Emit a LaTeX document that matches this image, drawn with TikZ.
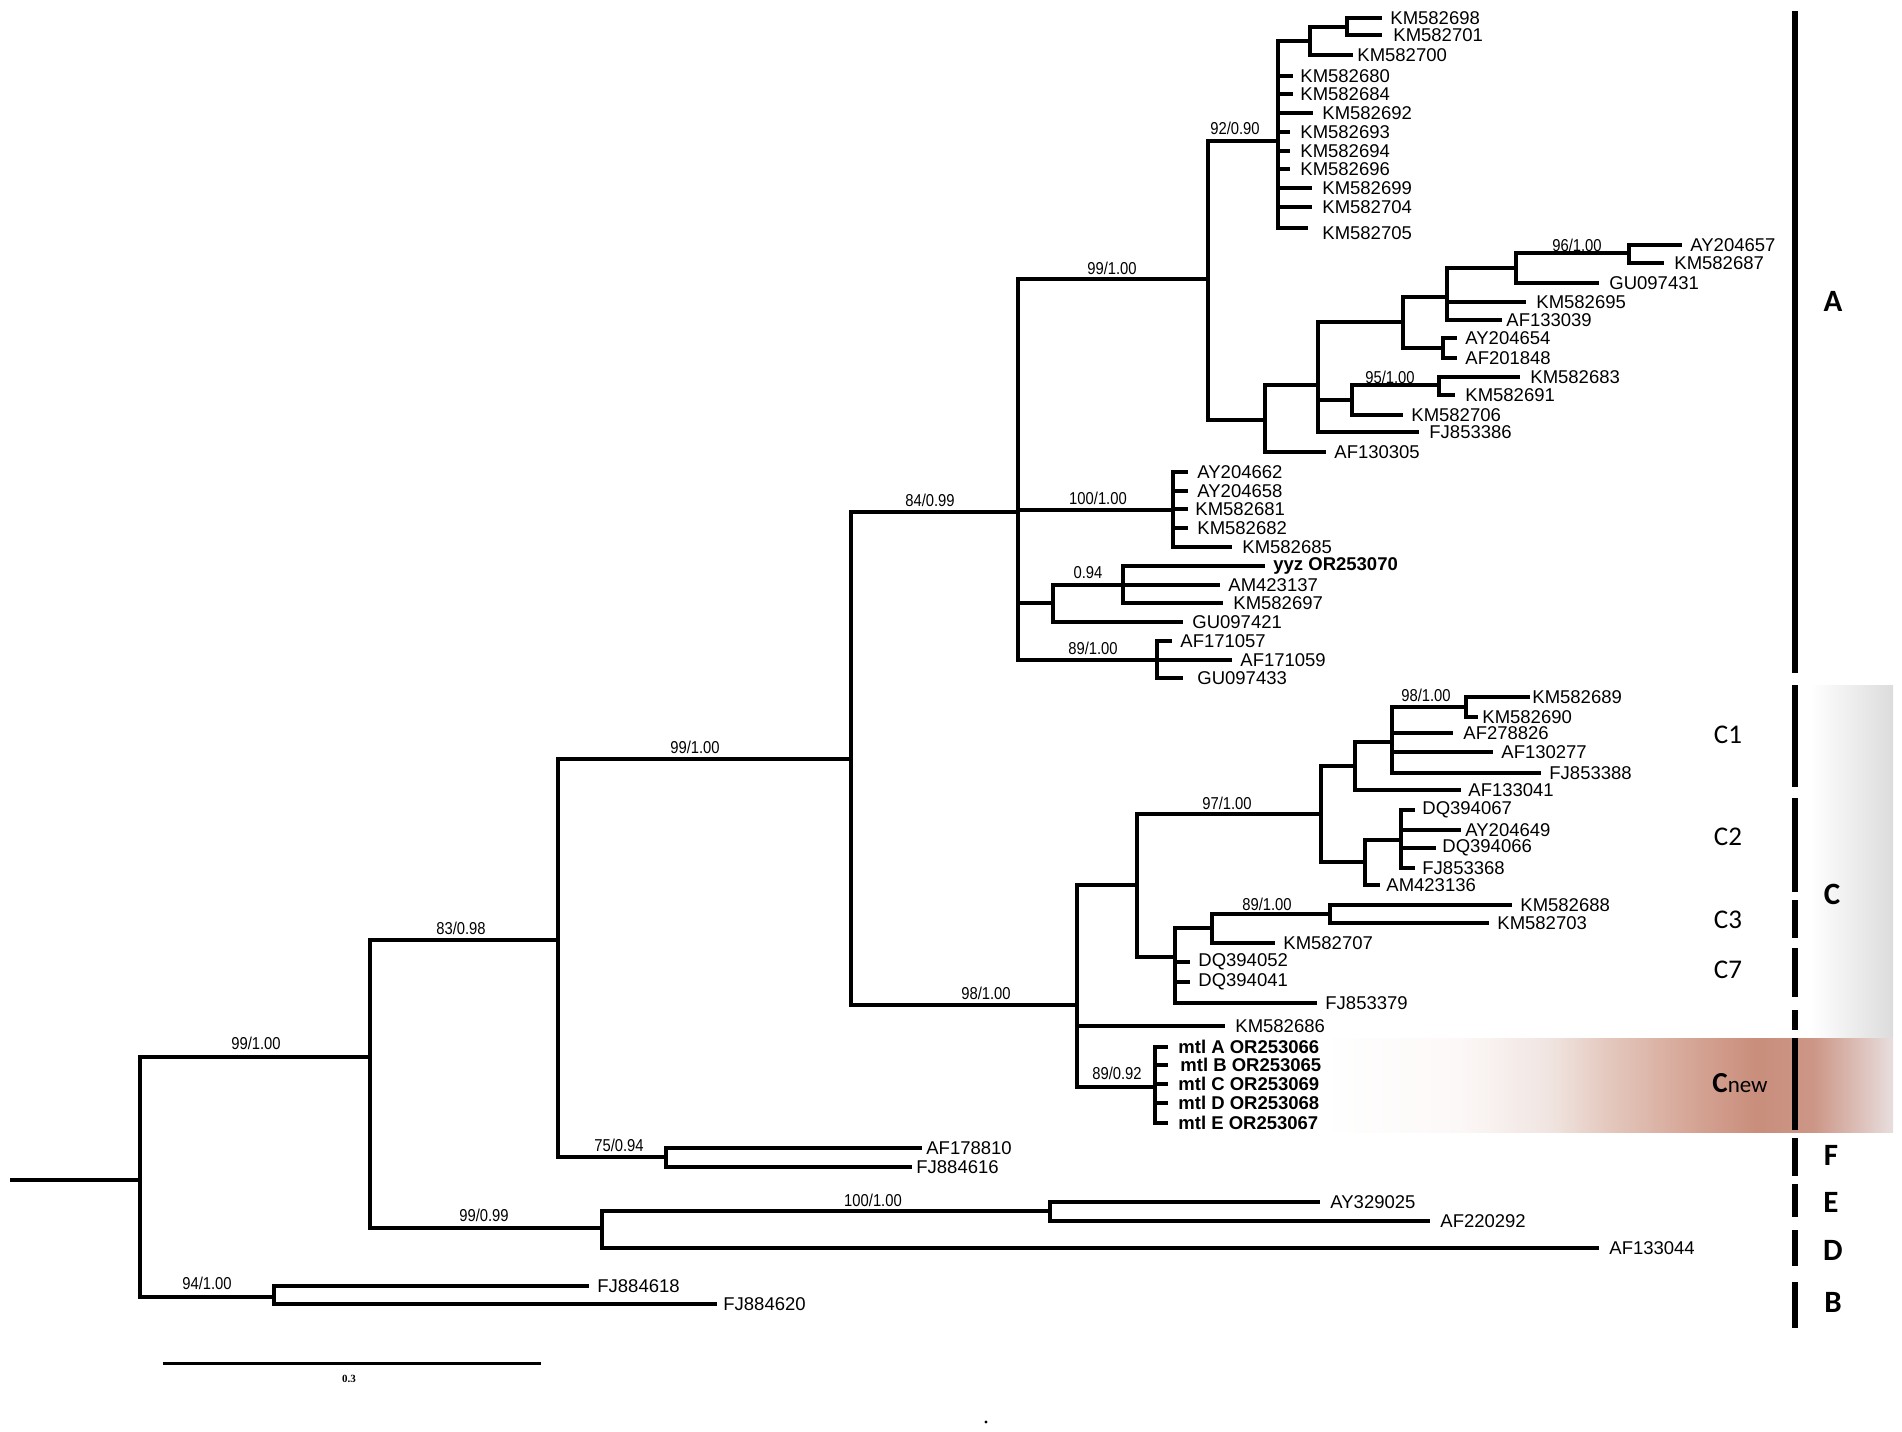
\documentclass[tikz,border=0pt]{standalone}
\usepackage{fontspec}
\setmainfont{Liberation Sans}
\newfontfamily\arf{Liberation Sans}
\newfontfamily\supf{Liberation Sans}[FakeStretch=0.86]
\newfontfamily\calf{Carlito}
\newfontfamily\serf{Liberation Serif}
\definecolor{cna}{RGB}{252,248,247}
\definecolor{cnb}{RGB}{240,228,224}
\definecolor{cnc}{RGB}{228,200,190}
\definecolor{cnd}{RGB}{212,162,146}
\definecolor{cne}{RGB}{201,142,124}
\definecolor{cnf}{RGB}{204,150,134}
\definecolor{cng}{RGB}{232,222,222}
\definecolor{gre}{RGB}{220,220,220}
\pgfdeclarehorizontalshading{cgrey}{100bp}{color(0bp)=(white); color(25bp)=(white); color(75bp)=(gre); color(100bp)=(gre)}
\pgfdeclarehorizontalshading{cnewsh}{100bp}{color(0bp)=(white); color(25bp)=(white); color(37bp)=(cna); color(45bp)=(cnb); color(50bp)=(cnc); color(58bp)=(cnd); color(63bp)=(cne); color(68bp)=(cnf); color(75bp)=(cng); color(100bp)=(cng)}
\newcommand\lf[5]{\coordinate (#1) at (#2,#3); \node[lab] (#1t) at (#4,#3) {#5};}
\newcommand\blf[5]{\coordinate (#1) at (#2,#3); \node[blab] (#1t) at (#4,#3) {#5};}
\newcommand\ed[2]{\foreach \c in {#2} {\draw[br] (#1) |- (\c);}}
\begin{document}
\begin{tikzpicture}[x=0.5pt,y=-0.5pt,
  br/.style={line width=1.8pt},
  lab/.style={anchor=west,inner sep=0pt,font=\fontsize{9.25}{10}\selectfont\arf},
  blab/.style={anchor=west,inner sep=0pt,font=\fontsize{9.25}{10}\selectfont\arf\bfseries},
  sup/.style={inner sep=0pt,font=\fontsize{8.6}{9}\selectfont\supf},
  clade/.style={inner sep=0pt,font=\fontsize{15.5}{16}\selectfont\calf\bfseries},
  subc/.style={inner sep=0pt,font=\fontsize{13.5}{14}\selectfont\calf},
  bar/.style={line width=3pt}]
\useasboundingbox (0,0) rectangle (1902,1431);
% backgrounds
\shade[shading=cgrey] (1810,685) rectangle (1893,1038);
\shade[shading=cnewsh] (1323,1038) rectangle (1893,1132);
% internal nodes
\coordinate (r0) at (10,1180);
\coordinate (r) at (140,1180);
\coordinate (n1) at (370,1057);
\coordinate (nB) at (274,1297);
\coordinate (n2) at (558,940);
\coordinate (n3) at (602,1228);
\coordinate (n4) at (851,759);
\coordinate (nF) at (666,1157);
\coordinate (nE) at (1050,1211);
\coordinate (n5) at (1018,512);
\coordinate (n6) at (1077,1005);
\coordinate (n7) at (1208,279);
\coordinate (n8) at (1173,510);
\coordinate (n9) at (1053,603);
\coordinate (n10) at (1157,660);
\coordinate (n11) at (1278,141);
\coordinate (n12) at (1265,420);
\coordinate (n13) at (1310,41);
\coordinate (n14) at (1347,27);
\coordinate (n15) at (1318,385);
\coordinate (n16) at (1403,322);
\coordinate (n17) at (1447,297);
\coordinate (n18) at (1516,268);
\coordinate (n19) at (1629,253);
\coordinate (n20) at (1443,348);
\coordinate (n21) at (1352,400);
\coordinate (n22) at (1439,385);
\coordinate (n23) at (1123,585);
\coordinate (n24) at (1137,885);
\coordinate (n25) at (1321,814);
\coordinate (n26) at (1355,766);
\coordinate (n27) at (1392,742);
\coordinate (n28) at (1466,707);
\coordinate (n29) at (1365,862);
\coordinate (n30) at (1401,840);
\coordinate (n31) at (1175,957);
\coordinate (n32) at (1212,928);
\coordinate (n33) at (1330,914);
\coordinate (n34) at (1155,1087);
% leaves
\lf{kma}{1382}{18}{1390}{KM582698}
\lf{kmb}{1382}{35}{1393}{KM582701}
\lf{kmc}{1353}{55}{1357}{KM582700}
\lf{kmd}{1293}{76}{1300}{KM582680}
\lf{kme}{1293}{94}{1300}{KM582684}
\lf{kmf}{1313}{113}{1322}{KM582692}
\lf{kmg}{1290}{132}{1300}{KM582693}
\lf{kmh}{1290}{151}{1300}{KM582694}
\lf{kmi}{1290}{169}{1300}{KM582696}
\lf{kmj}{1312}{188}{1322}{KM582699}
\lf{kmk}{1312}{207}{1322}{KM582704}
\coordinate (kml) at (1308,228); \node[lab] (kmlt) at (1322,233) {KM582705};
\lf{aya}{1682}{245}{1690}{AY204657}
\lf{kmm}{1664}{263}{1674}{KM582687}
\lf{gua}{1599}{283}{1609}{GU097431}
\lf{kmn}{1526}{302}{1536}{KM582695}
\lf{afa}{1502}{320}{1506}{AF133039}
\lf{ayb}{1457}{338}{1465}{AY204654}
\lf{afb}{1457}{358}{1465}{AF201848}
\lf{kmo}{1520}{377}{1530}{KM582683}
\lf{kmp}{1455}{395}{1465}{KM582691}
\lf{kmq}{1403}{415}{1411}{KM582706}
\lf{fja}{1419}{432}{1429}{FJ853386}
\lf{afc}{1326}{452}{1334}{AF130305}
\lf{ayc}{1188}{472}{1197}{AY204662}
\lf{ayd}{1188}{491}{1197}{AY204658}
\lf{kmr}{1188}{509}{1195}{KM582681}
\lf{kms}{1188}{528}{1197}{KM582682}
\lf{kmt}{1232}{547}{1242}{KM582685}
\blf{yyz}{1265}{566}{1273}{yyz OR253070}
\lf{ama}{1220}{585}{1228}{AM423137}
\lf{kmu}{1223}{603}{1233}{KM582697}
\lf{gub}{1183}{622}{1192}{GU097421}
\lf{afd}{1172}{641}{1180}{AF171057}
\lf{afe}{1232}{660}{1240}{AF171059}
\lf{guc}{1183}{678}{1197}{GU097433}
\lf{kmv}{1530}{697}{1532}{KM582689}
\lf{kmw}{1478}{717}{1482}{KM582690}
\lf{aff}{1453}{733}{1463}{AF278826}
\lf{afg}{1493}{752}{1501}{AF130277}
\lf{fjb}{1541}{773}{1549}{FJ853388}
\lf{afh}{1461}{790}{1468}{AF133041}
\lf{dqa}{1415}{810}{1422}{DQ394067}
\lf{aye}{1461}{830}{1465}{AY204649}
\lf{dqb}{1436}{848}{1442}{DQ394066}
\lf{fjc}{1415}{868}{1422}{FJ853368}
\lf{amb}{1380}{885}{1386}{AM423136}
\lf{kmx}{1512}{905}{1520}{KM582688}
\lf{kmy}{1489}{923}{1497}{KM582703}
\lf{kmz}{1275}{943}{1283}{KM582707}
\lf{dqc}{1190}{962}{1198}{DQ394052}
\lf{dqd}{1190}{982}{1198}{DQ394041}
\lf{fjd}{1317}{1003}{1325}{FJ853379}
\lf{kmk2}{1225}{1026}{1235}{KM582686}
\blf{mta}{1168}{1047}{1178}{mtl A OR253066}
\blf{mtb}{1168}{1065}{1180}{mtl B OR253065}
\blf{mtc}{1168}{1084}{1178}{mtl C OR253069}
\blf{mtd}{1168}{1103}{1178}{mtl D OR253068}
\blf{mte}{1168}{1123}{1178}{mtl E OR253067}
\lf{afi}{922}{1148}{926}{AF178810}
\lf{fje}{912}{1167}{916}{FJ884616}
\lf{ayf}{1320}{1202}{1330}{AY329025}
\lf{afj}{1430}{1221}{1440}{AF220292}
\lf{afk}{1599}{1248}{1609}{AF133044}
\lf{fjf}{589}{1286}{597}{FJ884618}
\lf{fjg}{717}{1304}{723}{FJ884620}
% branches
\draw[br] (r0) -- (r);
\ed{r}{n1,nB}
\ed{nB}{fjf,fjg}
\ed{n1}{n2,n3}
\ed{n2}{n4,nF}
\ed{nF}{afi,fje}
\ed{n3}{nE,afk}
\ed{nE}{ayf,afj}
\ed{n4}{n5,n6}
\ed{n5}{n7,n8,n9,n10}
\ed{n7}{n11,n12}
\ed{n11}{n13,kmd,kme,kmf,kmg,kmh,kmi,kmj,kmk,kml}
\ed{n13}{n14,kmc}
\ed{n14}{kma,kmb}
\ed{n12}{n15,afc}
\ed{n15}{n16,n21,fja}
\ed{n16}{n17,n20}
\ed{n17}{n18,kmn,afa}
\ed{n18}{n19,gua}
\ed{n19}{aya,kmm}
\ed{n20}{ayb,afb}
\ed{n21}{n22,kmq}
\ed{n22}{kmo,kmp}
\ed{n8}{ayc,ayd,kmr,kms,kmt}
\ed{n9}{n23,gub}
\ed{n23}{yyz,ama,kmu}
\ed{n10}{afd,afe,guc}
\ed{n6}{n24,kmk2,n34}
\ed{n24}{n25,n31}
\ed{n25}{n26,n29}
\ed{n26}{n27,afh}
\ed{n27}{n28,aff,afg,fjb}
\ed{n28}{kmv,kmw}
\ed{n29}{n30,amb}
\ed{n30}{dqa,aye,dqb,fjc}
\ed{n31}{n32,dqc,dqd,fjd}
\ed{n32}{n33,kmz}
\ed{n33}{kmx,kmy}
\ed{n34}{mta,mtb,mtc,mtd,mte}
% support values
\node[sup] (s1) at (256,1043) {99/1.00};
\node[sup] (s2) at (207,1283) {94/1.00};
\node[sup] (s3) at (461,928) {83/0.98};
\node[sup] (s4) at (484,1215) {99/0.99};
\node[sup] (s5) at (619,1145) {75/0.94};
\node[sup] (s6) at (873,1200) {100/1.00};
\node[sup] (s7) at (695,747) {99/1.00};
\node[sup] (s8) at (930,500) {84/0.99};
\node[sup] (s9) at (986,993) {98/1.00};
\node[sup] (s10) at (1112,268) {99/1.00};
\node[sup] (s11) at (1235,128) {92/0.90};
\node[sup] (s12) at (1577,245) {96/1.00};
\node[sup] (s13) at (1390,377) {95/1.00};
\node[sup] (s14) at (1098,498) {100/1.00};
\node[sup] (s15) at (1088,573) {0.94};
\node[sup] (s16) at (1093,648) {89/1.00};
\node[sup] (s17) at (1227,803) {97/1.00};
\node[sup] (s18) at (1426,695) {98/1.00};
\node[sup] (s19) at (1267,904) {89/1.00};
\node[sup] (s20) at (1117,1073) {89/0.92};
% clade bars
\foreach \ya/\yb in {11/673,685/787,798/892,900/938,948/997,1010/1030,1038/1130,1138/1176,1184/1217,1230/1266,1282/1328}
  {\draw[bar] (1795,\ya) -- (1795,\yb);}
% clade labels
\node[clade] (cA) at (1833,301) {A};
\node[clade] (cC) at (1832,894) {C};
\node[clade] (cF) at (1831,1155) {F};
\node[clade] (cE) at (1831,1202) {E};
\node[clade] (cD) at (1833,1250) {D};
\node[clade] (cB) at (1833,1302) {B};
\node[subc] (c1) at (1728,735) {C1};
\node[subc] (c2) at (1728,837) {C2};
\node[subc] (c3) at (1728,920) {C3};
\node[subc] (c7) at (1728,970) {C7};
\node[inner sep=0pt] (cn) at (1740,1083) {\calf{\fontsize{14.5}{15}\selectfont\bfseries C}{\fontsize{11.5}{12}\selectfont new}};
% scale bar
\coordinate (sb1) at (163,1363);
\coordinate (sb2) at (541,1363);
\draw[line width=1.5pt] (sb1) -- (sb2);
\node[inner sep=0pt,font=\fontsize{5.5}{6}\selectfont\serf\bfseries] (sbl) at (349,1379) {0.3};
\fill (986,1422) circle (1.6);
\end{tikzpicture}
\end{document}
